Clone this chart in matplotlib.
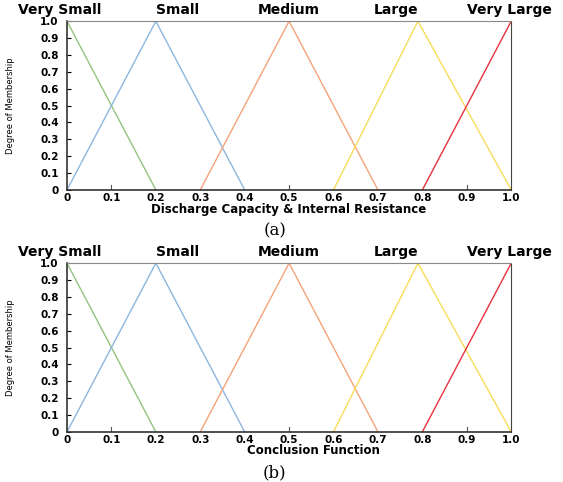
import numpy as np
import matplotlib.pyplot as plt
from matplotlib import font_manager

# membership functions: (start, peak, end)
terms = ['Very Small', 'Small', 'Medium', 'Large', 'Very Large']
starts = [0.0, 0.0, 0.3, 0.6, 0.8]
peaks = [0.0, 0.2, 0.5, 0.79, 1.0]
ends = [0.2, 0.4, 0.7, 1.0, 1.0]
colors = ['#93c47d', '#8db7e0', '#f4a47a', '#f7dc5a', '#e5323e']
term_pos = [-0.017, 0.25, 0.50, 0.74, 0.995]

xlabels = ['Discharge Capacity & Internal Resistance', 'Conclusion Function']
xlabel_pos = [(0.5, -0.078), (0.555, -0.072)]
captions = ['(a)', '(b)']
ticks = [0, 0.1, 0.2, 0.3, 0.4, 0.5, 0.6, 0.7, 0.8, 0.9, 1.0]
ticklabels = ['0', '0.1', '0.2', '0.3', '0.4', '0.5', '0.6', '0.7', '0.8', '0.9', '1.0']

# narrow font for the y label if there is one
names = set(f.name for f in font_manager.fontManager.ttflist)
if 'Liberation Sans Narrow' in names:
    yl_font, yl_size = 'Liberation Sans Narrow', 7
else:
    yl_font, yl_size = 'DejaVu Sans', 6

fig = plt.figure(figsize=(5.63, 4.82), dpi=100)
boxes = [[0.119, 0.606, 0.789, 0.350], [0.119, 0.104, 0.789, 0.350]]

for k in range(2):
    ax = fig.add_axes(boxes[k])
    for i in range(5):
        xs = [starts[i], peaks[i], ends[i]]
        ys = [0 if starts[i] != peaks[i] else 1, 1, 0 if ends[i] != peaks[i] else 1]
        ax.plot(xs, ys, color=colors[i], lw=1.0)
        ax.text(term_pos[i], 1.045, terms[i], ha='center', va='baseline',
                fontsize=10, fontweight='bold', clip_on=False)
    ax.set_xlim(0, 1)
    ax.set_ylim(0, 1)
    ax.set_xticks(ticks)
    ax.set_xticklabels(ticklabels)
    ax.set_yticks(ticks)
    ax.set_yticklabels(ticklabels)
    ax.tick_params(axis='both', direction='in', labelsize=7.5)
    ax.tick_params(axis='y', pad=6, length=3)
    ax.tick_params(axis='x', length=0, pad=2)
    for t in [0.1, 0.5, 0.9]:
        ax.plot([t, t], [0, 0.03], color='#555555', lw=0.8)
    for lab in ax.get_xticklabels() + ax.get_yticklabels():
        lab.set_fontweight('bold')
    ax.set_xlabel(xlabels[k], fontsize=8.5, fontweight='bold')
    ax.xaxis.set_label_coords(*xlabel_pos[k])
    ax.set_ylabel('Degree of Membership', fontsize=yl_size, family=yl_font)
    ax.yaxis.set_label_coords(-0.116, 0.5)
    ax.spines['top'].set_color('#888888')
    ax.spines['right'].set_color('#444444')
    for s in ['left', 'bottom']:
        ax.spines[s].set_color('#333333')
        ax.spines[s].set_linewidth(1.2)
    fig.text(0.488, boxes[k][1] - 0.085, captions[k], ha='center', va='center',
             fontsize=12, family='DejaVu Serif')

fig.savefig('out.png', dpi=100)
